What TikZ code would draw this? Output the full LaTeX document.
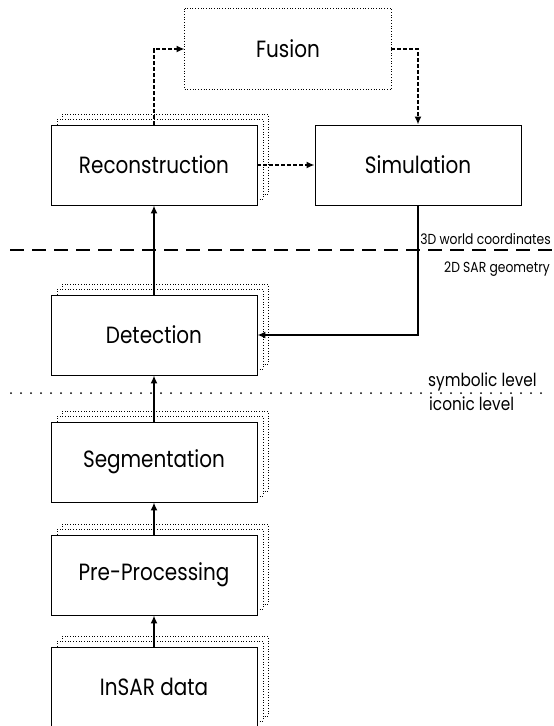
\documentclass[tikz,border=0pt]{standalone}
\usepackage{fontspec}
\setmainfont{Poppins}[FakeStretch=0.85]
\usetikzlibrary{positioning,arrows.meta,shadows}
\tikzset{>={Latex[length=8pt,width=7pt]}}
\tikzset{
  block/.style={draw,line width=.9pt,fill=white,minimum width=206pt,
    minimum height=80pt,inner sep=0pt,font=\fontsize{23.5}{27}\selectfont},
  stacked/.style={
    general shadow={shadow xshift=11pt,shadow yshift=11pt,draw,fill=white,
      dotted,line width=.7pt},
    general shadow={shadow xshift=6pt,shadow yshift=6pt,draw,fill=white,
      dotted,line width=.7pt}},
  flow/.style={->,line width=2pt},
  link/.style={->,line width=2pt,dash pattern=on 4pt off 2pt},
  level/.style={font=\fontsize{14.5}{16}\selectfont,inner sep=0pt},
  tier/.style={font=\fontsize{18}{20}\selectfont,inner sep=0pt}
}

\begin{document}
\begin{tikzpicture}[x=1pt,y=-1pt]
% Page in pixels, y grows downwards
\useasboundingbox (0,0) rectangle (554,726);

% Level separators
\draw[line width=2pt,dash pattern=on 14pt off 8pt] (10,250) -- (554,250);
\draw[line width=2pt,line cap=round,dash pattern=on 0pt off 10pt] (11,393) -- (548,393);
\node[level,anchor=south east] (world) at (551,244.5) {3D world coordinates};
\node[level,anchor=east] (sar) at (550,269) {2D SAR geometry};
\node[tier,anchor=west] (symb) at (428,382) {symbolic level};
\node[tier,anchor=west] (icon) at (429,404) {iconic level};

% Processing chain
\node[block,stacked] (insar) at (154,687) {InSAR data};
\node[block,stacked] (prep) at (154,575) {Pre-Processing};
\node[block,stacked] (segm) at (154,462) {Segmentation};
\node[block,stacked] (detect) at (154,335) {Detection};
\node[block,stacked] (recon) at (154,165) {Reconstruction};
\node[block] (simul) at (418,165) {Simulation};
\node[block,draw=none] (fusion) at (288,49) {Fusion};
\draw[line width=.7pt,dotted] (fusion.north west) rectangle (fusion.south east);

% Solid arrows
\draw[flow] (insar) -- (prep);
\draw[flow] (prep) -- (segm);
\draw[flow] (segm) -- (detect);
\draw[flow] (detect) -- (recon);
\draw[flow] (simul.south) |- (detect.east);

% Dashed arrows
\draw[link] (recon) -- (simul);
\draw[link] (recon.north) |- (fusion.west);
\draw[link] (fusion.east) -| (simul.north);

\end{tikzpicture}
\end{document}
